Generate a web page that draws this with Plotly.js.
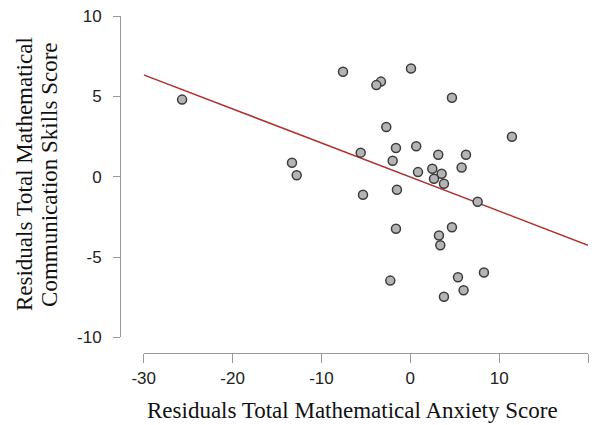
<!DOCTYPE html>
<html>
<head>
<meta charset="utf-8">
<script src="https://cdn.plot.ly/plotly-3.0.1.min.js"></script>
<style>html,body{margin:0;padding:0;background:#fff;}#chart{width:597px;height:425px;}</style>
</head>
<body>
<div id="chart"></div>
<script>
// Residuals (partial regression)
const anxietyResid = [-25.68, -13.31, -12.78, -7.57, -3.30, -3.82, 0.08, 4.69, -2.70, 11.44,
  -5.58, -1.61, 0.67, 3.15, 6.27, -1.98, 5.78, 2.48, 0.87, 3.53, 2.67, 3.79, -5.32, -1.50, 7.58,
  -1.61, 4.69, 3.23, 3.38, -2.25, 8.29, 5.37, 6.00, 3.79];
const commResid = [4.80, 0.87, 0.09, 6.53, 5.92, 5.70, 6.73, 4.91, 3.10, 2.49,
  1.50, 1.79, 1.90, 1.37, 1.37, 1.00, 0.58, 0.50, 0.29, 0.19, -0.12, -0.44, -1.12, -0.81, -1.56,
  -3.24, -3.14, -3.66, -4.26, -6.46, -5.96, -6.25, -7.06, -7.46];
// Fitted regression line endpoints
const fitX = [-30, 20];
const fitY = [6.34, -4.26];
const xTicks = [-30, -20, -10, 0, 10, 20];
const yTicks = [-10, -5, 0, 5, 10];
const xTitle = 'Residuals Total Mathematical Anxiety Score';
const yTitleLines = ['Residuals Total Mathematical', 'Communication Skills Score'];

const traces = [
  {x: fitX, y: fitY, type: 'scatter', mode: 'lines', line: {color: '#b03030', width: 1.5}, hoverinfo: 'skip'},
  {x: anxietyResid, y: commResid, type: 'scatter', mode: 'markers', cliponaxis: false,
   marker: {size: 9, color: '#b4b4b4', line: {color: '#3c3c3c', width: 1.5}}}
];
const tickFont = {family: 'Liberation Sans, Arial, sans-serif', size: 17, color: '#222'};
const titleFont = {family: 'Liberation Serif, Times New Roman, serif', size: 23, color: '#111'};
const layout = {
  width: 597, height: 425,
  margin: {l: 120, r: 9, t: 16, b: 72},
  showlegend: false,
  paper_bgcolor: '#fff', plot_bgcolor: '#fff',
  xaxis: {
    domain: [0.0506, 1], range: [-30, 20], anchor: 'free', position: 0,
    tickvals: xTicks, ticktext: xTicks.map(String),
    showgrid: false, zeroline: false, showline: true, linecolor: '#999', linewidth: 1,
    ticks: 'outside', ticklen: 9, tickcolor: '#999', tickwidth: 1, tickfont: tickFont,
    ticklabelstandoff: 1
  },
  yaxis: {
    domain: [0.046, 1], range: [-10, 10], anchor: 'free', position: 0,
    tickvals: yTicks, ticktext: yTicks.map(String),
    showgrid: false, zeroline: false, showline: true, linecolor: '#999', linewidth: 1,
    ticks: 'outside', ticklen: 7, tickcolor: '#999', tickwidth: 1, tickfont: tickFont,
    ticklabelstandoff: 8
  },
  annotations: [
    {text: xTitle, xref: 'paper', yref: 'paper', x: 0.496, y: -0.172, xanchor: 'center', yanchor: 'middle',
     showarrow: false, font: titleFont},
    {text: yTitleLines[0], xref: 'paper', yref: 'paper', x: -0.205, y: 0.531, xanchor: 'center', yanchor: 'middle',
     textangle: -90, showarrow: false, font: titleFont},
    {text: yTitleLines[1], xref: 'paper', yref: 'paper', x: -0.152, y: 0.531, xanchor: 'center', yanchor: 'middle',
     textangle: -90, showarrow: false, font: titleFont}
  ]
};
Plotly.newPlot('chart', traces, layout, {displayModeBar: false, staticPlot: true});
</script>
</body>
</html>
